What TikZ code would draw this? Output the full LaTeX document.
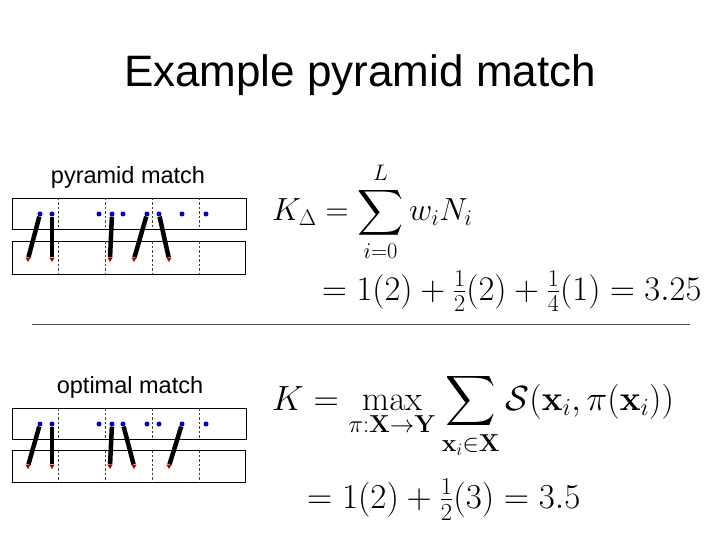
\documentclass[tikz,border=0pt]{standalone}
\usepackage{fix-cm}
\usepackage{amsmath}
\DeclareFontFamily{OMX}{cmex}{}
\DeclareFontShape{OMX}{cmex}{m}{n}{<->cmex10}{}
\usepackage[no-math]{fontspec}
\newfontfamily\arialfont{Liberation Sans}
\usepackage{tikz}
\usetikzlibrary{shapes.geometric, positioning, calc}

\tikzset{
    bluept/.style={circle, fill=blue!75!black, inner sep=0pt, minimum size=5pt},
    redpt/.style={regular polygon, regular polygon sides=3, shape border rotate=180,
                  fill=red!65!black, inner sep=0pt, minimum size=6pt},
    matchline/.style={line width=4.5pt, black},
    binbox/.style={draw=black, line width=0.8pt},
    bindash/.style={draw=black!75, line width=0.7pt, dash pattern=on 2.5pt off 2pt},
    eqn/.style={anchor=base west, inner sep=0pt, font=\fontsize{#1}{40}\selectfont},
    eqn/.default=34.5,
}

\begin{document}
\begin{tikzpicture}[x=1pt, y=-1pt]
    \fill[white] (0,0) rectangle (720,540);
    \useasboundingbox (0,0) rectangle (720,540);

    \node[font=\arialfont\fontsize{44}{50}\selectfont, anchor=base] (title) at (360,87) {Example pyramid match};

    % pyramid match
    \node[font=\arialfont\fontsize{23.5}{28}\selectfont, anchor=base] (pmlabel) at (128,184) {pyramid match};
    \draw[binbox] (12,198) rectangle (246,229);
    \draw[binbox] (12,241) rectangle (245,274);
    \foreach \x in {58,105,152,199} {
        \draw[bindash] (\x,198) -- (\x,229);
        \draw[bindash] (\x,241) -- (\x,274);
    }
    \foreach \x [count=\k] in {40,52,99,112,123,147,159,182,206}
        \node[bluept] (pa\k) at (\x,214) {};
    \foreach \x [count=\k] in {28,52,110,134,169}
        \node[redpt] (pb\k) at (\x,259) {};
    \draw[matchline] (pa1) -- (pb1);
    \draw[matchline] (pa2) -- (pb2);
    \draw[matchline] (pa4) -- (pb3);
    \draw[matchline] (pa6) -- (pb4);
    \draw[matchline] (pa7) -- (pb5);

    \node[eqn=32] (kdelta) at (272,221) {$\displaystyle K_{\Delta} = \sum_{i=0}^{L} w_i N_i$};
    \node[eqn] (kdval) at (322,300) {$= 1(2) + \frac{1}{2}(2) + \frac{1}{4}(1) = 3.25$};

    \draw[black!70, line width=0.8pt] (32,324) -- (690,324);

    % optimal match
    \node[font=\arialfont\fontsize{23.5}{28}\selectfont, anchor=base] (omlabel) at (130,393) {optimal match};
    \draw[binbox] (12,408) rectangle (246,439);
    \draw[binbox] (12,450) rectangle (245,482);
    \foreach \x in {58,105,152,199} {
        \draw[bindash] (\x,408) -- (\x,439);
        \draw[bindash] (\x,450) -- (\x,482);
    }
    \foreach \x [count=\k] in {40,52,99,112,123,147,159,182,206}
        \node[bluept] (oa\k) at (\x,424) {};
    \foreach \x [count=\k] in {28,52,110,134,169}
        \node[redpt] (ob\k) at (\x,466) {};
    \draw[matchline] (oa1) -- (ob1);
    \draw[matchline] (oa2) -- (ob2);
    \draw[matchline] (oa4) -- (ob3);
    \draw[matchline] (oa5) -- (ob4);
    \draw[matchline] (oa8) -- (ob5);

    \node[eqn=35] (kopt) at (272,410) {$\displaystyle K = \max_{\pi:\mathbf{X}\rightarrow\mathbf{Y}} \sum_{\mathbf{x}_i\in\mathbf{X}} \mathcal{S}(\mathbf{x}_i, \pi(\mathbf{x}_i))$};
    \node[eqn=35] (koval) at (307,508) {$= 1(2) + \frac{1}{2}(3) = 3.5$};
\end{tikzpicture}
\end{document}
